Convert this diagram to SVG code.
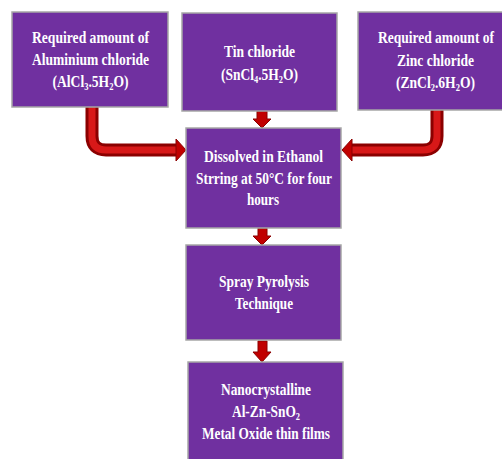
<svg xmlns="http://www.w3.org/2000/svg" width="502" height="459" viewBox="0 0 502 459">
<style>
.box{fill:#7030A0;stroke:#A6A6A6;stroke-width:1.5}
.t{font-family:"Liberation Serif","Times New Roman",serif;font-weight:bold;font-size:16px;fill:#ffffff;text-anchor:middle}
.sh{fill:none;stroke:#8B0000;stroke-width:13}
.sl{fill:none;stroke:#D81818;stroke-width:7}
.hd{fill:#C00000;stroke:#8B0000;stroke-width:1}
</style>
<rect width="502" height="459" fill="#ffffff"/>
<g id="connectors">
<path class="sh" d="M92,107 V136 Q92,150 106,150 H177"/>
<path class="sl" d="M92,107 V136 Q92,150 106,150 H177"/>
<polygon class="hd" points="176,139 186,150 176,161"/>
<path class="sh" d="M437,110 V136 Q437,150 423,150 H351"/>
<path class="sl" d="M437,110 V136 Q437,150 423,150 H351"/>
<polygon class="hd" points="352,139 342,150 352,161"/>
<polygon class="hd" points="257,111 267,111 267,119 271,119 262,128 253,119 257,119"/>
<polygon class="hd" points="258,228 267,228 267,236 271,236 262,245 253,236 258,236"/>
<polygon class="hd" points="258,341 267,341 267,352 271,352 262,362 253,352 258,352"/>
</g>
<g id="node-al">
<rect class="box" x="12" y="12" width="156" height="95"/>
<text class="t" x="90.5" y="43" textLength="117" lengthAdjust="spacingAndGlyphs">Required amount of</text>
<text class="t" x="90.5" y="65" textLength="117" lengthAdjust="spacingAndGlyphs">Aluminium chloride</text>
<text class="t" x="90.5" y="87" textLength="76" lengthAdjust="spacingAndGlyphs">(AlCl<tspan font-size="10" dy="3">3</tspan><tspan dy="-3">.5H</tspan><tspan font-size="10" dy="3">2</tspan><tspan dy="-3">O)</tspan></text>
</g>
<g id="node-sn">
<rect class="box" x="182" y="13" width="155" height="98"/>
<text class="t" x="259.5" y="57" textLength="71" lengthAdjust="spacingAndGlyphs">Tin chloride</text>
<text class="t" x="259.5" y="80" textLength="77" lengthAdjust="spacingAndGlyphs">(SnCl<tspan font-size="10" dy="3">4</tspan><tspan dy="-3">.5H</tspan><tspan font-size="10" dy="3">2</tspan><tspan dy="-3">O)</tspan></text>
</g>
<g id="node-zn">
<rect class="box" x="358" y="12" width="150" height="98"/>
<text class="t" x="436" y="43" textLength="116" lengthAdjust="spacingAndGlyphs">Required amount of</text>
<text class="t" x="435.5" y="66" textLength="77" lengthAdjust="spacingAndGlyphs">Zinc chloride</text>
<text class="t" x="435.5" y="88" textLength="79" lengthAdjust="spacingAndGlyphs">(ZnCl<tspan font-size="10" dy="3">2</tspan><tspan dy="-3">.6H</tspan><tspan font-size="10" dy="3">2</tspan><tspan dy="-3">O)</tspan></text>
</g>
<g id="node-dissolve">
<rect class="box" x="186" y="128" width="155" height="100"/>
<text class="t" x="263.5" y="162" textLength="119" lengthAdjust="spacingAndGlyphs">Dissolved in Ethanol</text>
<text class="t" x="264" y="184" textLength="136" lengthAdjust="spacingAndGlyphs">Strring at 50°C for four</text>
<text class="t" x="263" y="205" textLength="32" lengthAdjust="spacingAndGlyphs">hours</text>
</g>
<g id="node-spray">
<rect class="box" x="186" y="245" width="155" height="95"/>
<text class="t" x="264" y="287" textLength="90" lengthAdjust="spacingAndGlyphs">Spray Pyrolysis</text>
<text class="t" x="264" y="309" textLength="58" lengthAdjust="spacingAndGlyphs">Technique</text>
</g>
<g id="node-film">
<rect class="box" x="188" y="362" width="155" height="100"/>
<text class="t" x="266" y="395" textLength="90" lengthAdjust="spacingAndGlyphs">Nanocrystalline</text>
<text class="t" x="266" y="417" textLength="68" lengthAdjust="spacingAndGlyphs">Al-Zn-SnO<tspan font-size="10" dy="3">2</tspan></text>
<text class="t" x="266" y="439" textLength="128" lengthAdjust="spacingAndGlyphs">Metal Oxide thin films</text>
</g>
</svg>
